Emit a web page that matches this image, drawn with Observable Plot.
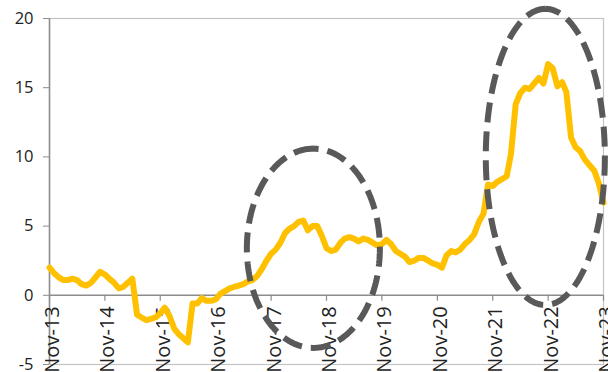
<!DOCTYPE html>
<html>
<head>
<meta charset="utf-8">
<script src="https://cdn.jsdelivr.net/npm/d3@7"></script>
<script src="https://cdn.jsdelivr.net/npm/@observablehq/plot@0.6"></script>
<style>
  html, body { margin: 0; padding: 0; background: #fff; }
  #chart { width: 608px; height: 372px; overflow: hidden; }
</style>
</head>
<body>
<div id="chart"></div>
<script>
// Monthly series, starting Nov-2013
const startYear = 2013;
const startMonthIndex = 10; // November (0-based)
const values = [
  2.0, 1.6, 1.3, 1.1, 1.1, 1.2, 1.1, 0.8, 0.7, 0.9, 1.3, 1.7,
  1.5, 1.2, 0.9, 0.5, 0.6, 0.9, 1.2, -1.4, -1.6, -1.8, -1.7, -1.6,
  -1.3, -0.9, -1.5, -2.4, -2.8, -3.1, -3.4, -0.6, -0.6, -0.2, -0.4, -0.4,
  -0.3, 0.1, 0.3, 0.5, 0.6, 0.7, 0.8, 1.0, 1.1, 1.4, 1.9, 2.5,
  3.0, 3.3, 3.8, 4.5, 4.8, 5.0, 5.3, 5.4, 4.7, 5.0, 5.0, 4.3,
  3.4, 3.2, 3.3, 3.8, 4.1, 4.2, 4.1, 3.9, 4.1, 4.0, 3.8, 3.6,
  3.7, 4.0, 3.7, 3.2, 3.0, 2.8, 2.4, 2.5, 2.7, 2.7, 2.5, 2.3,
  2.2, 2.0, 2.9, 3.2, 3.1, 3.3, 3.7, 4.0, 4.4, 5.3, 5.9, 8.0,
  7.9, 8.2, 8.4, 8.6, 10.2, 13.8, 14.6, 15.0, 14.9, 15.3, 15.7, 15.3,
  16.7, 16.4, 15.1, 15.4, 14.7, 11.4, 10.7, 10.4, 9.8, 9.4, 9.0, 8.1,
  6.7
];
const xTickLabels = ["Nov-13","Nov-14","Nov-15","Nov-16","Nov-17","Nov-18","Nov-19","Nov-20","Nov-21","Nov-22","Nov-23"];
const yTicks = [-5, 0, 5, 10, 15, 20];

// Highlighted periods (dashed ellipses), in data space
const highlightFrom = ["2017-05-25", "2021-09-16"];
const highlightTo   = ["2019-10-19", "2023-11-10"];
const highlightLow  = [-3.8, -0.7];
const highlightHigh = [10.6, 20.7];

const parseTick = d3.utcParse("%b-%y");
const tickDates = xTickLabels.map(parseTick);
const series = values.map((v, i) => ({date: new Date(Date.UTC(startYear, startMonthIndex + i, 1)), value: v}));

const ellipsePts = [];
highlightFrom.forEach((f, k) => {
  const t0 = new Date(f + "T00:00:00Z").getTime();
  const t1 = new Date(highlightTo[k] + "T00:00:00Z").getTime();
  const tm = (t0 + t1) / 2, th = (t1 - t0) / 2;
  const vm = (highlightLow[k] + highlightHigh[k]) / 2, vh = (highlightHigh[k] - highlightLow[k]) / 2;
  const N = 160;
  for (let j = 0; j <= N; j++) {
    const a = Math.PI / 2 + 2 * Math.PI * j / N;
    ellipsePts.push({id: k, date: new Date(tm + th * Math.cos(a)), value: vm + vh * Math.sin(a)});
  }
});

const chart = Plot.plot({
  width: 608,
  height: 372,
  marginLeft: 49,
  marginRight: 5,
  marginTop: 18,
  marginBottom: 8,
  style: {fontFamily: "'Open Sans', sans-serif", background: "#fff", overflow: "visible"},
  x: {type: "utc", domain: [tickDates[0], tickDates[tickDates.length - 1]], axis: null},
  y: {domain: [-5, 20], axis: null},
  marks: [
    Plot.frame({stroke: "#c4c4c4", strokeWidth: 1.2}),
    Plot.ruleX([tickDates[0]], {stroke: "#8c8c8c", strokeWidth: 1.5}),
    Plot.ruleY([0], {stroke: "#8c8c8c", strokeWidth: 1.5}),
    Plot.ruleX(tickDates, {x: d => d, y1: 0, y2: 0, insetBottom: -6, stroke: "#8c8c8c", strokeWidth: 1.2}),
    Plot.axisY({ticks: yTicks, tickSize: 6, tickPadding: 10, fontSize: 16.5, stroke: "#8c8c8c", fill: "#222", label: null, tickFormat: d => String(d)}),
    Plot.text(tickDates, {x: d => d, y: 0, text: (d, i) => xTickLabels[i], rotate: -90, textAnchor: "end", lineAnchor: "middle", dy: 11, dx: 3, fontSize: 20, fill: "#222"}),
    Plot.line(series, {x: "date", y: "value", stroke: "#FFC000", strokeWidth: 6, strokeLinejoin: "round", strokeLinecap: "round"}),
    Plot.line(ellipsePts, {x: "date", y: "value", z: "id", stroke: "#595959", strokeWidth: 6, strokeDasharray: "20,9", strokeLinecap: "butt", curve: "linear"})
  ]
});
document.getElementById("chart").appendChild(chart);
</script>
</body>
</html>
